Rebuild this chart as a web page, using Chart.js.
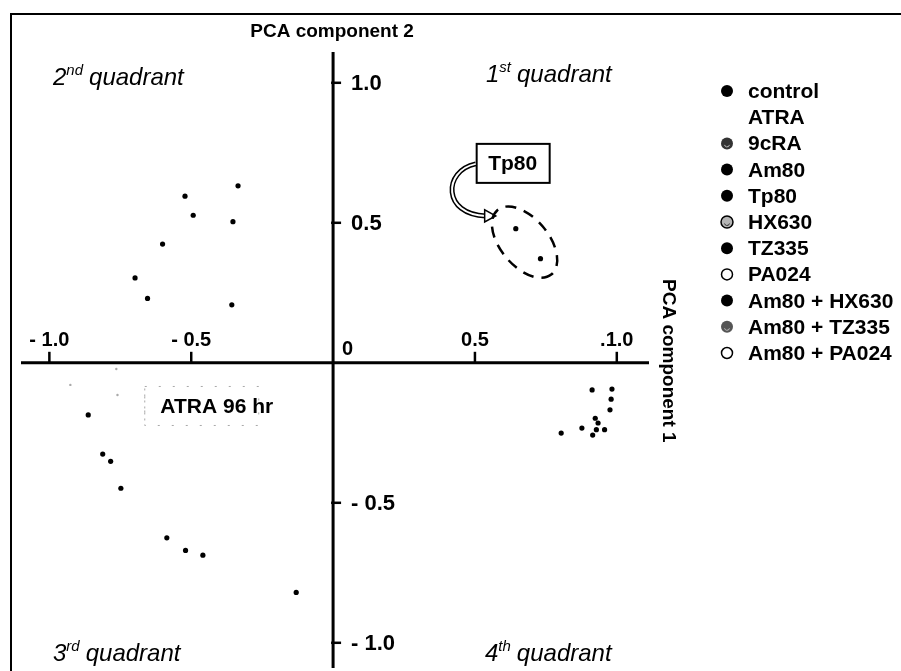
<!DOCTYPE html>
<html>
<head>
  <script src="https://cdn.jsdelivr.net/npm/chart.js"></script>
  <style>
    body { margin: 0; background: #fff; }
  </style>
</head>
<body>
  <canvas id="pcaChart" width="901" height="671"></canvas>

  <script>
    // treatment groups, in legend order
    const groups = ['control', 'ATRA', '9cRA', 'Am80', 'Tp80', 'HX630', 'TZ335', 'PA024',
                    'Am80 + HX630', 'Am80 + TZ335', 'Am80 + PA024'];

    // PCA scores: x = component 1, y = component 2
    const controlPts   = [{x: 0.913, y: -0.097}, {x: 0.983, y: -0.094}, {x: 0.980, y: -0.130}];
    const atraPts      = [{x: -0.926, y: -0.079}, {x: -0.764, y: -0.022}, {x: -0.760, y: -0.115}];
    const cra9Pts      = [{x: -0.335, y: 0.632}, {x: -0.522, y: 0.595}, {x: -0.493, y: 0.527}, {x: -0.353, y: 0.504}];
    const am80Pts      = [{x: -0.863, y: -0.186}, {x: -0.812, y: -0.326}, {x: -0.784, y: -0.352}, {x: -0.748, y: -0.448}];
    const tp80Pts      = [{x: 0.644, y: 0.479}, {x: 0.731, y: 0.372}];
    const hx630Pts     = [{x: 0.976, y: -0.168}, {x: 0.924, y: -0.198}];
    const tz335Pts     = [{x: 0.934, y: -0.215}, {x: 0.928, y: -0.239}];
    const pa024Pts     = [{x: 0.915, y: -0.258}, {x: 0.957, y: -0.239}];
    const amHxPts      = [{x: -0.601, y: 0.424}, {x: -0.698, y: 0.303}, {x: -0.654, y: 0.230}, {x: -0.357, y: 0.207}];
    const amTzPts      = [{x: -0.586, y: -0.625}, {x: -0.520, y: -0.670}, {x: -0.459, y: -0.687}, {x: -0.130, y: -0.820}];
    const amPaPts      = [{x: 0.877, y: -0.233}, {x: 0.804, y: -0.251}];

    const groupPoints = [controlPts, atraPts, cra9Pts, am80Pts, tp80Pts, hx630Pts, tz335Pts,
                         pa024Pts, amHxPts, amTzPts, amPaPts];

    // axis ticks
    const xTicks = [-1.0, -0.5, 0.5, 1.0];
    const xTickLabels = ['- 1.0', '- 0.5', '0.5', '.1.0'];
    const yTicks = [1.0, 0.5, -0.5, -1.0];
    const yTickLabels = ['1.0', '0.5', '- 0.5', '- 1.0'];

    // legend marker look for each group
    const legendMarks = ['solid', 'none', 'dark', 'solid', 'solid', 'hatched', 'solid', 'open',
                         'solid', 'grey', 'open'];

    const FONT = '"Liberation Sans", Arial, sans-serif';

    function quadLabel(ctx, num, sup, x, base) {
      ctx.fillStyle = '#000';
      ctx.textAlign = 'left';
      ctx.textBaseline = 'alphabetic';
      ctx.font = 'italic 24px ' + FONT;
      ctx.fillText(num, x, base);
      x += ctx.measureText(num).width;
      ctx.font = 'italic 15px ' + FONT;
      ctx.fillText(sup, x, base - 10);
      x += ctx.measureText(sup).width + 6;
      ctx.font = 'italic 24px ' + FONT;
      ctx.fillText('quadrant', x, base);
    }

    const pcaDecor = {
      id: 'pcaDecor',
      beforeDatasetsDraw(chart) {
        const ctx = chart.ctx;
        const sx = chart.scales.x, sy = chart.scales.y;
        const area = chart.chartArea;
        const x0 = sx.getPixelForValue(0);
        const y0 = sy.getPixelForValue(0);
        ctx.save();

        // frame (left + top)
        ctx.strokeStyle = '#000';
        ctx.lineWidth = 2;
        ctx.beginPath();
        ctx.moveTo(11, 671);
        ctx.lineTo(11, 14);
        ctx.lineTo(901, 14);
        ctx.stroke();

        // axes through the origin
        ctx.lineWidth = 3;
        ctx.beginPath();
        ctx.moveTo(area.left, y0);
        ctx.lineTo(area.right + 1, y0);
        ctx.moveTo(x0, area.top);
        ctx.lineTo(x0, area.bottom);
        ctx.stroke();

        // ticks + labels
        ctx.lineWidth = 2.5;
        ctx.fillStyle = '#000';
        ctx.font = 'bold 20px ' + FONT;
        ctx.textAlign = 'center';
        ctx.textBaseline = 'alphabetic';
        xTicks.forEach((v, i) => {
          const px = sx.getPixelForValue(v);
          ctx.beginPath();
          ctx.moveTo(px, y0 - 11);
          ctx.lineTo(px, y0);
          ctx.stroke();
          ctx.fillText(xTickLabels[i], px, y0 - 17);
        });
        ctx.textAlign = 'left';
        ctx.fillText('0', x0 + 9, y0 - 8);

        ctx.font = 'bold 22px ' + FONT;
        ctx.textBaseline = 'middle';
        yTicks.forEach((v, i) => {
          const py = sy.getPixelForValue(v);
          ctx.beginPath();
          ctx.moveTo(x0 - 2, py);
          ctx.lineTo(x0 + 8, py);
          ctx.stroke();
          ctx.fillText(yTickLabels[i], x0 + 18, py + 1);
        });

        // faint dotted box round the ATRA 96 hr label
        const ax = sx.getPixelForValue(-0.41), ay = sy.getPixelForValue(-0.156);
        ctx.strokeStyle = '#a8a8a8';
        ctx.lineWidth = 1;
        ctx.setLineDash([2, 12]);
        ctx.strokeRect(ax - 72, ay - 20, 114, 39);
        ctx.setLineDash([2, 4]);
        ctx.beginPath();
        ctx.moveTo(ax - 72, ay - 18);
        ctx.lineTo(ax - 72, ay + 16);
        ctx.stroke();
        ctx.setLineDash([]);
        ctx.restore();
      },
      afterDraw(chart) {
        const ctx = chart.ctx;
        const sx = chart.scales.x, sy = chart.scales.y;
        const x0 = sx.getPixelForValue(0);
        const y0 = sy.getPixelForValue(0);
        ctx.save();
        ctx.fillStyle = '#000';
        ctx.strokeStyle = '#000';

        // axis titles
        ctx.font = 'bold 19px ' + FONT;
        ctx.textAlign = 'center';
        ctx.textBaseline = 'middle';
        ctx.fillText('PCA component 2', x0 - 1, 32);
        ctx.save();
        ctx.translate(668, y0 - 2);
        ctx.rotate(Math.PI / 2);
        ctx.fillText('PCA component 1', 0, 0);
        ctx.restore();

        // quadrant names
        quadLabel(ctx, '2', 'nd', 53, 85);
        quadLabel(ctx, '1', 'st', 486, 82);
        quadLabel(ctx, '3', 'rd', 53, 661);
        quadLabel(ctx, '4', 'th', 485, 661);

        // ATRA 96 hr label
        ctx.font = 'bold 21px ' + FONT;
        ctx.textAlign = 'center';
        ctx.textBaseline = 'middle';
        ctx.fillText('ATRA 96 hr', sx.getPixelForValue(-0.41), sy.getPixelForValue(-0.156) + 1);

        // Tp80 callout box
        const bx = sx.getPixelForValue(0.633), by = sy.getPixelForValue(0.714);
        ctx.lineWidth = 2;
        ctx.fillStyle = '#fff';
        ctx.fillRect(bx - 36, by - 19, 73, 39);
        ctx.strokeRect(bx - 36, by - 19, 73, 39);
        ctx.fillStyle = '#000';
        ctx.font = 'bold 21px ' + FONT;
        ctx.textBaseline = 'middle';
        ctx.fillText('Tp80', bx, by + 1);

        // hollow curved arrow from the box to the cluster
        const path = new Path2D();
        path.moveTo(bx - 37, by + 1);
        path.bezierCurveTo(bx - 70, by + 8, bx - 70, by + 52, bx - 27, by + 53);
        ctx.lineWidth = 5;
        ctx.stroke(path);
        ctx.strokeStyle = '#fff';
        ctx.lineWidth = 2;
        ctx.stroke(path);
        ctx.strokeStyle = '#000';
        ctx.lineWidth = 1.5;
        ctx.beginPath();
        ctx.moveTo(bx - 17, by + 53);
        ctx.lineTo(bx - 28, by + 47);
        ctx.lineTo(bx - 28, by + 59);
        ctx.closePath();
        ctx.fillStyle = '#fff';
        ctx.fill();
        ctx.stroke();

        // dashed ellipse round the Tp80 points
        ctx.setLineDash([11, 8]);
        ctx.lineWidth = 2.5;
        ctx.beginPath();
        ctx.ellipse(sx.getPixelForValue(0.675), sy.getPixelForValue(0.431), 42, 24, 50 * Math.PI / 180, 0, Math.PI * 2);
        ctx.stroke();
        ctx.setLineDash([]);

        // legend
        ctx.font = 'bold 21px ' + FONT;
        ctx.textAlign = 'left';
        ctx.textBaseline = 'alphabetic';
        chart.data.datasets.forEach((ds, i) => {
          const ry = 91 + i * 26.2;
          const mx = 727;
          const kind = legendMarks[i];
          ctx.lineWidth = 1.5;
          ctx.strokeStyle = '#000';
          if (kind !== 'none') {
            ctx.beginPath();
            ctx.arc(mx, ry, kind === 'open' ? 5.5 : 6, 0, Math.PI * 2);
            if (kind === 'solid') { ctx.fillStyle = '#000'; ctx.fill(); }
            else if (kind === 'dark') { ctx.fillStyle = '#333'; ctx.fill(); }
            else if (kind === 'grey') { ctx.fillStyle = '#555'; ctx.fill(); }
            else if (kind === 'hatched') { ctx.fillStyle = '#b5b5b5'; ctx.fill(); ctx.stroke(); }
            else { ctx.fillStyle = '#fff'; ctx.fill(); ctx.stroke(); }
            if (kind === 'dark' || kind === 'grey' || kind === 'hatched') {
              ctx.strokeStyle = kind === 'hatched' ? '#333' : '#bbb';
              ctx.lineWidth = 1;
              ctx.beginPath();
              ctx.arc(mx, ry + 1, 2.5, 0.2, Math.PI - 0.2);
              ctx.stroke();
            }
          }
          ctx.fillStyle = '#000';
          ctx.fillText(ds.label, 748, ry + 7);
        });
        ctx.restore();
      }
    };

    const ctx = document.getElementById('pcaChart').getContext('2d');
    new Chart(ctx, {
      type: 'scatter',
      data: {
        datasets: groups.map((g, i) => ({
          label: g,
          data: groupPoints[i],
          pointRadius: g === 'ATRA' ? 1.2 : 2.6,
          pointBackgroundColor: g === 'ATRA' ? '#aaa' : '#000',
          pointBorderWidth: 0,
          pointHoverRadius: 3
        }))
      },
      options: {
        responsive: false,
        animation: false,
        layout: { padding: { left: 21, top: 52, right: 253, bottom: 0 } },
        scales: {
          x: { type: 'linear', min: -1.1, max: 1.11, display: false },
          y: { type: 'linear', min: -1.09, max: 1.11, display: false }
        },
        plugins: {
          legend: { display: false },
          tooltip: { enabled: false }
        }
      },
      plugins: [pcaDecor]
    });
  </script>
</body>
</html>
